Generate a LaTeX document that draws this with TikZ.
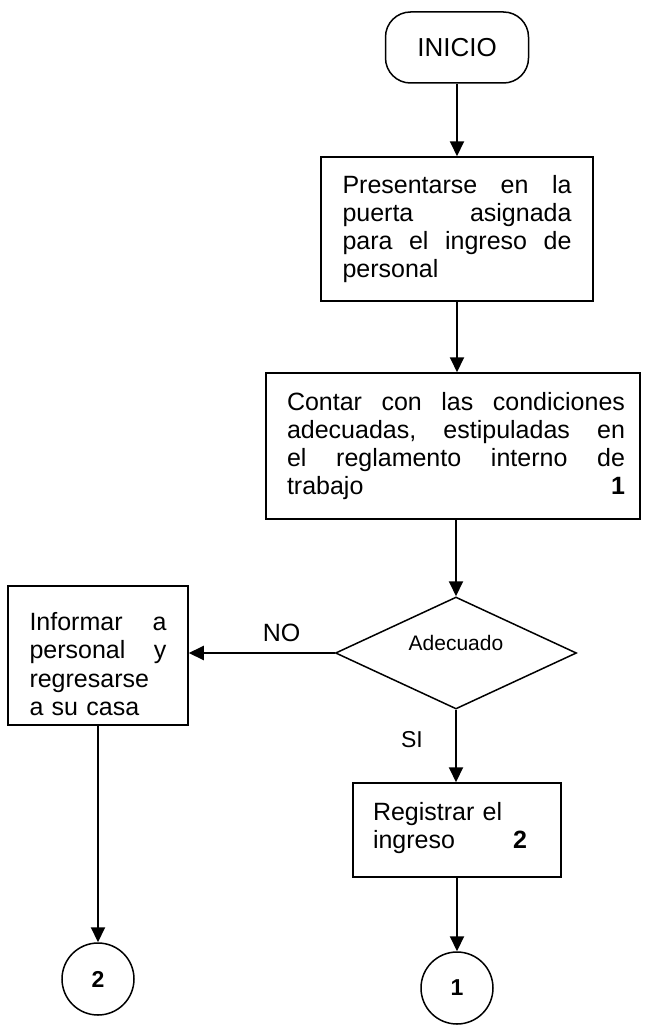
\documentclass[tikz,border=0pt]{standalone}
\usepackage{fontspec}
\setmainfont{Liberation Sans}
\usetikzlibrary{arrows.meta,shapes.geometric}
\newcommand\jline[2]{\makebox[#1][l]{#2}}
\begin{document}
\begin{tikzpicture}[x=1pt,y=-1pt,
  shapebox/.style={draw,line width=1.5pt,rectangle,inner sep=0pt,align=left},
  conn/.style={line width=2pt,-{Triangle[length=15pt,width=14pt]}},
  txt/.style={font=\fontsize{25}{28.3}\selectfont},
  connector/.style={draw,circle,line width=1.5pt,minimum size=72pt,inner sep=0pt,font=\bfseries\fontsize{23}{26}\selectfont}]
\useasboundingbox (0,0) rectangle (648,1030);

\node[draw,line width=1.5pt,rounded corners=25pt,minimum width=143pt,minimum height=71pt,inner sep=0pt,font=\fontsize{26}{30}\selectfont] (inicio) at (457,47.5) {INICIO};

\node[shapebox,txt,minimum width=272pt,minimum height=144pt,text width=229pt,text height=18.2pt,text depth=90.1pt] (b1) at (457,229)
  {\jline{229pt}{Presentarse\hfill en\hfill la}\\ \jline{229pt}{puerta\hfill asignada}\\ \jline{229pt}{para\hfill el\hfill ingreso\hfill de}\\ personal};

\node[shapebox,txt,minimum width=374pt,minimum height=146pt,text width=344pt,text height=18.2pt,text depth=90.1pt] (b2) at (453,446)
  {\hspace*{6pt}\jline{338pt}{Contar\hfill con\hfill las\hfill condiciones}\\ \hspace*{6pt}\jline{338pt}{adecuadas,\hfill estipuladas\hfill en}\\ \hspace*{6pt}\jline{338pt}{el\hfill reglamento\hfill interno\hfill de}\\ \hspace*{6pt}\jline{338pt}{trabajo\hfill\textbf{1}}};

\node[draw,line width=1.5pt,diamond,aspect=2.15,minimum width=241pt,minimum height=112pt,inner sep=0pt,font=\fontsize{21}{24}\selectfont,text height=10pt,text depth=15pt] (d) at (456,653) {Adecuado};

\node[shapebox,txt,minimum width=180pt,minimum height=139pt,text width=137pt,text height=35pt,text depth=84.9pt] (lb) at (98,655.5)
  {\jline{137pt}{Informar\hfill a}\\ \jline{137pt}{personal\hfill y}\\ regresarse\\ a su casa};

\node[font=\fontsize{25}{28}\selectfont] (no) at (281.5,633) {NO};
\node[font=\fontsize{23}{26}\selectfont] (si) at (412,740) {SI};

\node[shapebox,txt,minimum width=208pt,minimum height=94pt,text width=168pt,text height=18.2pt,text depth=38pt] (b3) at (457,830)
  {Registrar el\\ \jline{154pt}{ingreso\hfill\textbf{2}}};

\node[connector] (c2) at (98,979) {2};
\node[connector] (c1) at (457,988) {1};

\draw[conn] (inicio.south) -- (b1.north);
\draw[conn] (b1.south) -- (b1.south |- b2.north);
\draw[conn] (d.north |- b2.south) -- (d.north);
\draw[conn] (d.west) -- (d.west -| lb.east);
\draw[conn] (d.south) -- (d.south |- b3.north);
\draw[conn] (lb.south) -- (c2.north);
\draw[conn] (b3.south) -- (c1.north);
\end{tikzpicture}
\end{document}
